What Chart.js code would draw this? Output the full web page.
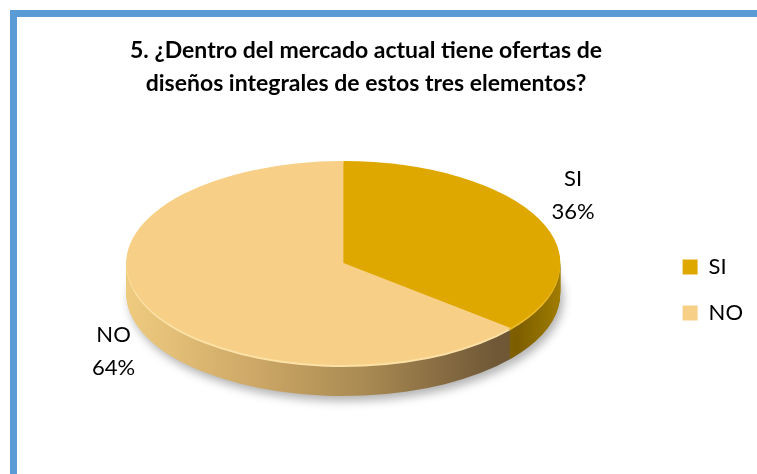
<!DOCTYPE html>
<html>
<head>
<meta charset="utf-8">
<script src="https://cdn.jsdelivr.net/npm/chart.js@4/dist/chart.umd.min.js"></script>
<style>
  html, body { margin: 0; padding: 0; background: #fff; }
  body { width: 757px; height: 474px; overflow: hidden; position: relative; font-family: Lato, 'Liberation Sans', sans-serif; }
  #frame { position: absolute; left: 10px; top: 10px; width: 760px; height: 480px; border-left: 7px solid #5B9BD5; border-top: 7px solid #5B9BD5; }
  #wrap { position: absolute; left: 17px; top: 17px; width: 740px; height: 457px; }
  #title { position: absolute; left: 86px; width: 560px; top: 33px; text-align: center; font-weight: 700; font-size: 23px; line-height: 33px; color: #000; }
</style>
</head>
<body>
<div id="frame"></div>
<div id="wrap"><canvas id="chart" width="740" height="457"></canvas></div>
<div id="title">5. ¿Dentro del mercado actual tiene ofertas de<br>diseños integrales de estos tres elementos?</div>
<script>
const categories = ['SI', 'NO'];
const percents = [36, 64];
const topColors = ['#DFA800', '#F8CF86'];
const rimColors = ['#EDBD2A', '#FCE2A6'];
const sideStops = [
  [[0, '#C49400'], [0.75, '#9A7400'], [0.9, '#7C5E00'], [1, '#A07C00']],
  [[0, '#EFCB80'], [0.3, '#CCA766'], [0.55, '#A98A52'], [0.85, '#705837'], [1, '#6A5334']],
];

// squash the library's pie into a tilted disc with a side wall
const pie3d = {
  id: 'pie3d',
  beforeDatasetsDraw(chart, args, opts) {
    const ctx = chart.ctx;
    const arcs = chart.getDatasetMeta(0).data;
    if (!arcs.length) return;
    const { x: cx, y: cy, outerRadius: r } = arcs[0];
    const sx = opts.rx / r, sy = opts.ry / r;
    const project = dy => {
      ctx.translate(cx, cy + dy);
      ctx.scale(sx, sy);
      ctx.translate(-cx, -cy);
    };
    const sides = sideStops.map(stops => {
      const g = ctx.createLinearGradient(cx - r, 0, cx + r, 0);
      stops.forEach(([o, c]) => g.addColorStop(o, c));
      return g;
    });
    const layer = (dy, fills) => {
      ctx.save();
      project(dy);
      arcs.forEach((arc, i) => {
        const fill = arc.options.backgroundColor;
        if (fills) arc.options.backgroundColor = fills[i];
        arc.draw(ctx);
        arc.options.backgroundColor = fill;
      });
      ctx.restore();
    };

    for (let d = opts.depth; d >= 1; d--) {
      if (d === opts.depth) {
        ctx.save();
        ctx.shadowColor = 'rgba(0,0,0,0.3)';
        ctx.shadowBlur = 10;
        ctx.shadowOffsetX = 3;
        ctx.shadowOffsetY = 5;
        layer(d, sides);
        ctx.restore();
      } else {
        layer(d, sides);
      }
    }
    layer(0, rimColors);
    layer(-opts.bevel, null);
    return false;
  }
};

const sliceLabels = {
  id: 'sliceLabels',
  afterDraw(chart, args, opts) {
    const ctx = chart.ctx;
    const arcs = chart.getDatasetMeta(0).data;
    const { rx, ry, depth } = chart.options.plugins.pie3d;
    ctx.save();
    ctx.font = opts.font;
    ctx.fillStyle = opts.color;
    ctx.textAlign = 'center';
    ctx.textBaseline = 'middle';
    arcs.forEach((arc, i) => {
      const mid = (arc.startAngle + arc.endAngle) / 2;
      const c = Math.cos(mid), s = Math.sin(mid);
      const x = arc.x + c * rx * opts.kx;
      const y = arc.y + s * ry * opts.ky + (s > 0 ? depth * 0.6 : 0);
      const lines = [categories[i], percents[i] + '%'];
      lines.forEach((t, j) => ctx.fillText(t, x, y + (j - (lines.length - 1) / 2) * opts.lineHeight));
    });
    ctx.restore();
  }
};

new Chart(document.getElementById('chart'), {
  type: 'pie',
  data: {
    labels: categories,
    datasets: [{ data: percents, backgroundColor: topColors, borderWidth: 0 }],
  },
  options: {
    responsive: false,
    animation: false,
    events: [],
    layout: { padding: { left: 11, right: 4, top: 165, bottom: 126 } },
    plugins: {
      pie3d: { rx: 217, ry: 102, depth: 29, bevel: 2 },
      sliceLabels: { font: '22px Lato', color: '#000', kx: 1.17, ky: 1.6, lineHeight: 33 },
      title: { display: false },
      tooltip: { enabled: false },
      legend: {
        position: 'right',
        align: 'end',
        labels: {
          color: '#000',
          font: { family: 'Lato', size: 22 },
          boxWidth: 15,
          boxHeight: 15,
          padding: 24,
        },
      },
    },
  },
  plugins: [pie3d, sliceLabels],
});
</script>
</body>
</html>
